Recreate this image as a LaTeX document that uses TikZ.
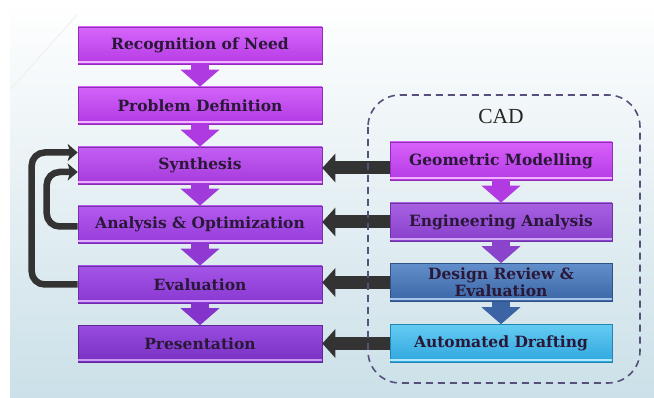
\documentclass[tikz,border=0pt]{standalone}
\usepackage{fontspec}
\newfontfamily\boxfont{DejaVu Serif}
\newfontfamily\cadfont{Liberation Serif}
\usetikzlibrary{arrows.meta}

\definecolor{txt}{HTML}{2A1838}
\definecolor{arrowgrey}{HTML}{333333}
\definecolor{dashcol}{HTML}{57507C}
\definecolor{bgbottom}{HTML}{CBE0E8}
% box gradients (top / bottom)
\definecolor{recT}{HTML}{D666FA}\definecolor{recB}{HTML}{B63AE4}
\definecolor{proT}{HTML}{D264F9}\definecolor{proB}{HTML}{B238E3}
\definecolor{synT}{HTML}{C45EF3}\definecolor{synB}{HTML}{A53ADC}
\definecolor{anaT}{HTML}{B45AEE}\definecolor{anaB}{HTML}{973CDA}
\definecolor{evaT}{HTML}{A454E6}\definecolor{evaB}{HTML}{8938D2}
\definecolor{preT}{HTML}{984CE0}\definecolor{preB}{HTML}{7830C2}
\definecolor{geoT}{HTML}{D860FA}\definecolor{geoB}{HTML}{B43AE4}
\definecolor{engT}{HTML}{A860E2}\definecolor{engB}{HTML}{8840CC}
\definecolor{drvT}{HTML}{628ECC}\definecolor{drvB}{HTML}{3C66A6}
\definecolor{autT}{HTML}{64CCF2}\definecolor{autB}{HTML}{2EA6DE}
% block arrow fills
\definecolor{a1}{HTML}{B03AE2}
\definecolor{a2}{HTML}{A03ADA}
\definecolor{a3}{HTML}{9038D2}
\definecolor{a4}{HTML}{8434CA}
\definecolor{a5}{HTML}{B23AE2}
\definecolor{a6}{HTML}{8A44CC}
\definecolor{a7}{HTML}{3C64A4}

\tikzset{
  stagebox/.style={minimum height=37pt, minimum width=244pt, inner sep=0pt,
    font=\boxfont\bfseries\fontsize{15.5}{17}\selectfont, text=txt, align=center},
  cadbox/.style={stagebox, minimum width=222pt, minimum height=38pt},
  pal/.style={top color=#1T, bottom color=#1B, draw=#1B!80!black, line width=0.6pt},
  downarrow/.style={draw=#1, line width=18pt,
    -{Triangle[width=38pt,length=17pt]}},
  feedarrow/.style={draw=arrowgrey, line width=13pt,
    -{Triangle[width=28pt,length=13pt]}},
  loopline/.style={draw=arrowgrey, line width=6.5pt, rounded corners=13pt,
    -{Stealth[width=17pt,length=10pt,inset=2.5pt]}},
  bevel/.style={draw=#1, line width=1.6pt},
}

\begin{document}
\begin{tikzpicture}[x=1pt,y=-1pt]
% page and slide background
\fill[white] (0,0) rectangle (654,398);
\shade[top color=white, bottom color=bgbottom] (10,0) rectangle (654,398);
\useasboundingbox (0,0) rectangle (654,398);
\draw[white!88!gray, line width=1pt] (10,90) -- (77,15);
\draw[white!88!gray, line width=1pt] (10,172) -- (43,137);

% design process stages
\node[stagebox, pal=rec] (rec)  at (200,45.5)  {Recognition of Need};
\node[stagebox, pal=pro] (prob) at (200,105.5) {Problem Definition};
\node[stagebox, pal=syn] (syn)  at (200,165.5) {Synthesis};
\node[stagebox, pal=ana] (ana)  at (200,224.5) {Analysis \& Optimization};
\node[stagebox, pal=eva] (eva)  at (200,284.5) {Evaluation};
\node[stagebox, pal=pre] (pres) at (200,344)   {Presentation};

% CAD stages
\node[cadbox, pal=geo] (geo)  at (501,161)   {Geometric Modelling};
\node[cadbox, pal=eng] (eng)  at (501,222)   {Engineering Analysis};
\node[cadbox, pal=drv] (drv)  at (501,282.5) {Design Review \&\\Evaluation};
\node[cadbox, pal=aut] (auto) at (501,343.5) {Automated Drafting};

% light bevel along the lower edge of each box
\foreach \n/\c in {rec/F2B4FF, prob/F2B4FF, syn/E8B0FF, ana/E0B0FF, eva/D8A8FF, pres/C898F0,
                   geo/F0B0FF, eng/D0A8F4, drv/A8C4EC, auto/B0E8FF}{
  \definecolor{bev}{HTML}{\c}
  \draw[bevel=bev] ([yshift=2.5pt]\n.south west) -- ([yshift=2.5pt]\n.south east);
}

% flow between stages
\draw[downarrow=a1] (rec.south)  -- (prob.north);
\draw[downarrow=a1] (prob.south) -- (syn.north);
\draw[downarrow=a2] (syn.south)  -- (ana.north);
\draw[downarrow=a3] (ana.south)  -- (eva.north);
\draw[downarrow=a4] (eva.south)  -- (pres.north);
\draw[downarrow=a5] (geo.south)  -- (eng.north);
\draw[downarrow=a6] (eng.south)  -- (drv.north);
\draw[downarrow=a7] (drv.south)  -- (auto.north);

% CAD support feeding the design stages
\draw[feedarrow] ([yshift=-7pt]geo.west) -- ([yshift=-7pt]syn.east |- geo.west);
\draw[feedarrow] (eng.west)  -- (ana.east |- eng.west);
\draw[feedarrow] (drv.west)  -- (eva.east |- drv.west);
\draw[feedarrow] (auto.west) -- (pres.east |- auto.west);

% iteration loops back to synthesis
\draw[loopline] ([yshift=-2pt]ana.west) -- ++(-31,0) |- ([yshift=-6.5pt]syn.west);
\draw[loopline] (eva.west) -- ++(-46,0) |- ([yshift=13pt]syn.west);

% CAD boundary
\draw[dashcol, line width=1.6pt, dash pattern=on 7pt off 5pt, rounded corners=32pt]
  (368,95) rectangle (640,383);
\node[font=\cadfont\fontsize{21.5}{24}\selectfont, text=black!85] (cad) at (501,116) {CAD};
\end{tikzpicture}
\end{document}
